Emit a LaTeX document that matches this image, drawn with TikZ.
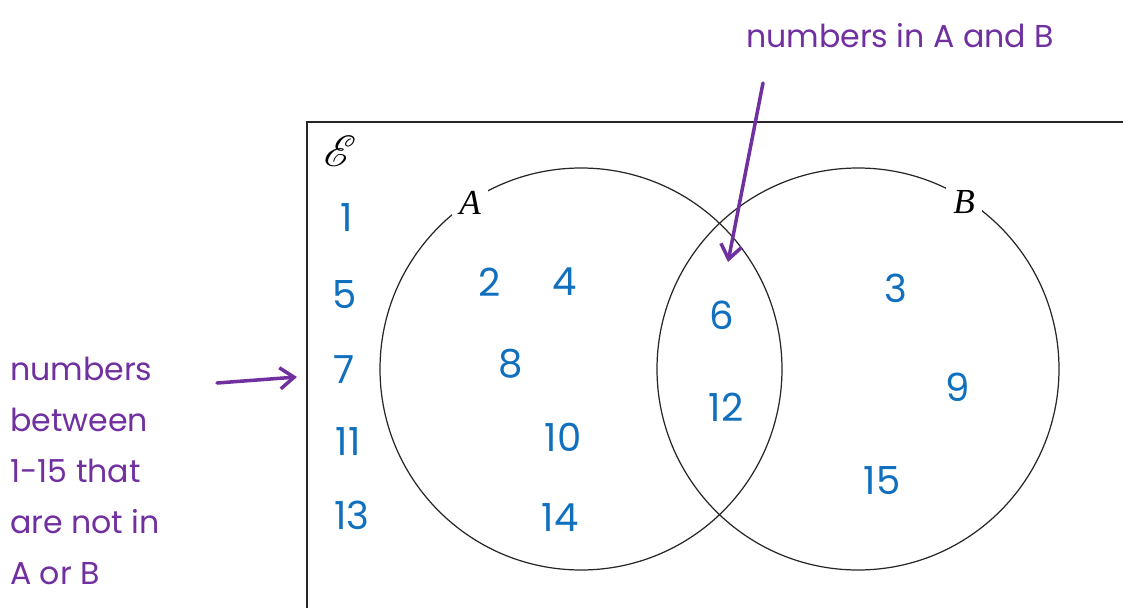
\documentclass[tikz,border=0pt]{standalone}
\usepackage{fontspec}
\setmainfont{Liberation Serif}
\newfontfamily\handfont{Poppins}
\usepackage{mathrsfs}
\usetikzlibrary{arrows.meta,positioning}

\definecolor{numblue}{RGB}{16,112,190}
\definecolor{notepurple}{RGB}{112,48,160}

\begin{document}
\begin{tikzpicture}[
    x=0.02cm, y=-0.02cm,
    num/.style={text=numblue, font=\handfont\fontsize{22}{26}\selectfont, inner sep=1pt},
    note/.style={text=notepurple, font=\handfont\fontsize{18}{29}\selectfont, inner sep=1pt},
    setname/.style={fill=white, font=\fontsize{20}{24}\selectfont\itshape, inner sep=4pt},
    ring/.style={draw=black!85, line width=0.7pt},
    pointer/.style={draw=notepurple, line width=2pt, line cap=round, -{Straight Barb[length=8pt,width=12pt,line width=2pt]}}
]
    \useasboundingbox (0,0) rectangle (1123,608);

    % universal set
    \draw[black!85, line width=0.7pt] (1123,122) -- (307,122) -- (307,608);
    \node[font=\fontsize{25}{28}\selectfont] (univ) at (340,151) {$\mathscr{E}$};

    % the two sets
    \draw[ring] (581,369) circle[radius=201];
    \draw[ring] (858,369) circle[radius=201];
    \node[setname] (setA) at (470,203) {A};
    \node[setname] (setB) at (964,202) {B};

    % outside A and B
    \node[num] (n1) at (347,218) {1};
    \node[num] (n5) at (345,295) {5};
    \node[num] (n7) at (344,370) {7};
    \node[num] (n11) at (348,442) {11};
    \node[num] (n13) at (352,515) {13};

    % only A
    \node[num] (n2) at (490,282) {2};
    \node[num] (n4) at (565,282) {4};
    \node[num] (n8) at (511,364) {8};
    \node[num] (n10) at (563,437) {10};
    \node[num] (n14) at (560,518) {14};

    % A and B
    \node[num] (n6) at (722,315) {6};
    \node[num] (n12) at (726,407) {12};

    % only B
    \node[num] (n3) at (896,288) {3};
    \node[num] (n9) at (958,387) {9};
    \node[num] (n15) at (882,481) {15};

    % notes
    \node[note] (both) at (900,36) {numbers in A and B};
    \node[note, align=left, anchor=north west, text depth=0pt] (neither) at (8,355)
        {numbers\\ between\\ 1-15 that\\ are not in\\ A or B};

    \coordinate (bothtip) at (728,262);
    \coordinate (neithertail) at (217,383);
    \coordinate (neithertip) at (297,377);

    \draw[pointer] (763,83) -- (bothtip);
    \draw[pointer] (neithertail) -- (neithertip);
\end{tikzpicture}
\end{document}
